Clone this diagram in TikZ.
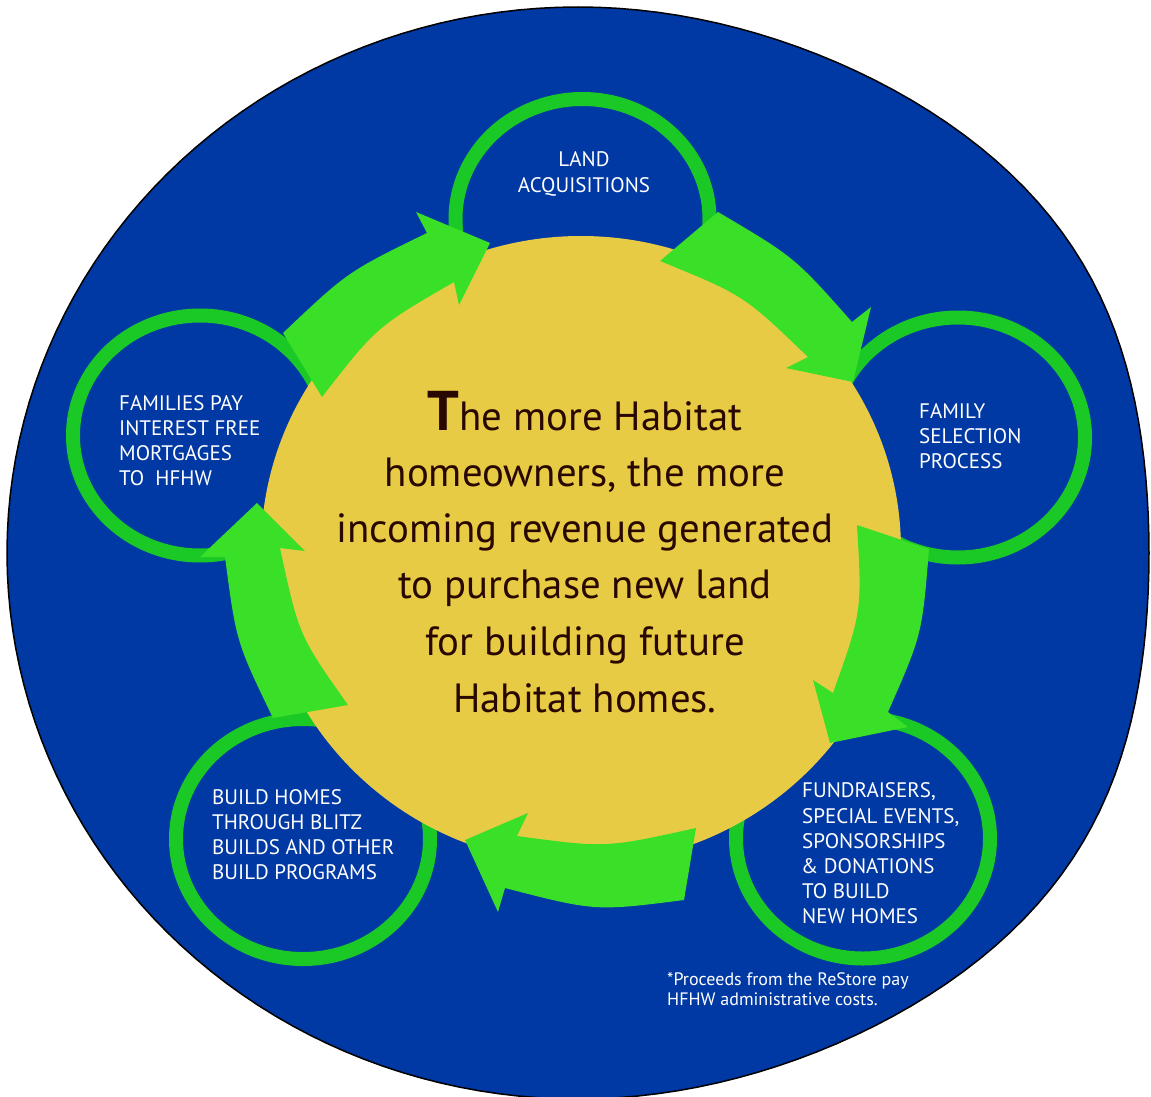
\documentclass[tikz,border=0pt]{standalone}
\usepackage{fontspec}
\setmainfont{PT Sans}
\definecolor{bgblue}{RGB}{0,57,163}
\definecolor{blobyellow}{RGB}{232,203,69}
\definecolor{arrowgreen}{RGB}{58,223,40}
\definecolor{ringgreen}{RGB}{26,200,38}
\definecolor{textbrown}{RGB}{40,8,0}
\begin{document}
\begin{tikzpicture}[x=1pt,y=-1pt,
  ring/.style={draw=ringgreen, line width=14pt},
  cyclearrow/.style={fill=arrowgreen},
  lbl/.style={text=white, font=\fontsize{21}{25}\selectfont, inner sep=0pt, anchor=base west},
  lblc/.style={lbl, anchor=base},
  centre/.style={text=textbrown, font=\fontsize{40.8}{56}\selectfont, inner sep=0pt, anchor=base},
  note/.style={text=white, font=\fontsize{18}{20}\selectfont, inner sep=0pt, anchor=base west}]
\useasboundingbox (0,0) rectangle (1151,1097);
\clip (0,0) rectangle (1151,1097);
% background disc (slightly fuller on the right)
\filldraw[fill=bgblue, draw=black, line width=1.5pt]
  plot[domain=0:360, samples=181, variable=\t]
  ({578+571*cos(\t)+30*max(0,cos(\t))*(sin(2*\t))^2}, {553+546*sin(\t)}) -- cycle;
% rings
\coordinate (land) at (582.5,219);
\coordinate (family) at (958,437.5);
\coordinate (fund) at (863,838.5);
\coordinate (build) at (303,839);
\coordinate (pay) at (200,435.5);
\draw[ring] (land) ellipse [x radius=127, y radius=120];
\draw[ring] (family) ellipse [x radius=127, y radius=120];
\draw[ring] (fund) ellipse [x radius=127, y radius=120];
\draw[ring] (build) ellipse [x radius=127, y radius=120];
\draw[ring] (pay) ellipse [x radius=127, y radius=120];
% central blob
\coordinate (hub) at (581,550);
\fill[blobyellow] (hub) ellipse [x radius=320, y radius=314];
% cycle arrows
\fill[cyclearrow] (283,333) .. controls (347.7,271.7) .. (427,233) -- (416,212) -- (490,243)
  -- (459,305) -- (454,282) .. controls (376.5,326.8) .. (322,397) -- cycle;
\fill[cyclearrow] (718,212) .. controls (794.7,257.3) .. (852,322) -- (871,307) -- (853,382)
  -- (786,368) -- (808,357) .. controls (743.9,295.3) .. (660,261) -- cycle;
\fill[cyclearrow] (929,549) .. controls (922.1,634.6) .. (888,712) -- (908,727) -- (830,743)
  -- (813,680) -- (833,693) .. controls (862.1,611.1) .. (857,525) -- cycle;
\fill[cyclearrow] (684,900) .. controls (595.2,911.3) .. (505,888) -- (498,912) -- (465,840)
  -- (528,813) -- (517,836) .. controls (605.8,848) .. (696,828) -- cycle;
\fill[cyclearrow] (273,718) .. controls (236.2,641.8) .. (225,557) -- (200,557) -- (257,503)
  -- (305,551) -- (280,548) .. controls (298.8,635.3) .. (348,705) -- cycle;
% central text
\node[centre] (c1) at (585,430) {{\fontsize{56}{56}\selectfont\bfseries T}he more Habitat};
\node[centre] (c2) at (585,486) {homeowners, the more};
\node[centre] (c3) at (585,542) {incoming revenue generated};
\node[centre] (c4) at (585,598) {to purchase new land};
\node[centre] (c5) at (585,655) {for building future};
\node[centre] (c6) at (585,712) {Habitat homes.};
% circle labels
\node[lblc] (land1) at (584,167) {LAND};
\node[lblc] (land2) at (584,192) {ACQUISITIONS};
\node[lbl] (fam1) at (919,418) {FAMILY};
\node[lbl] (fam2) at (919,443) {SELECTION};
\node[lbl] (fam3) at (919,468) {PROCESS};
\node[lbl] (fund1) at (802,797) {FUNDRAISERS,};
\node[lbl] (fund2) at (802,823) {SPECIAL EVENTS,};
\node[lbl] (fund3) at (802,848) {SPONSORSHIPS};
\node[lbl] (fund4) at (801,873) {\& DONATIONS};
\node[lbl] (fund5) at (802,898) {TO BUILD};
\node[lbl] (fund6) at (802,923) {NEW HOMES};
\node[lbl] (build1) at (212,804) {BUILD HOMES};
\node[lbl] (build2) at (212,829) {THROUGH BLITZ};
\node[lbl] (build3) at (212,854) {BUILDS AND OTHER};
\node[lbl] (build4) at (212,879) {BUILD PROGRAMS};
\node[lbl] (pay1) at (119,410) {FAMILIES PAY};
\node[lbl] (pay2) at (119,435) {INTEREST FREE};
\node[lbl] (pay3) at (119,460) {MORTGAGES};
\node[lbl] (pay4) at (119,485) {TO\ \ HFHW};
% footnote
\node[note] (note1) at (667,985) {*Proceeds from the ReStore pay};
\node[note] (note2) at (667,1005) {HFHW administrative costs.};
\end{tikzpicture}
\end{document}
